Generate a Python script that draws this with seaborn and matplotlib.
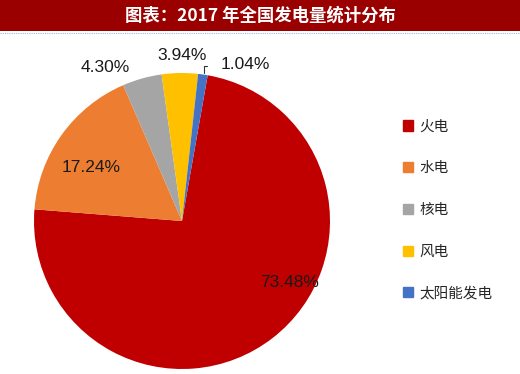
import matplotlib
matplotlib.use("Agg")
import matplotlib.pyplot as plt
import numpy as np
import seaborn as sns

categories = ["火电", "水电", "核电", "风电", "太阳能发电"]
shares = [73.48, 17.24, 4.30, 3.94, 1.04]
pct_labels = ["73.48%", "17.24%", "4.30%", "3.94%", "1.04%"]
title = "图表：2017 年全国发电量统计分布"

sns.set_theme(style="white")
plt.rcParams['font.family'] = ['Noto Sans CJK SC', 'DejaVu Sans']

colors = sns.color_palette(["#C00000", "#ED7D31", "#A5A5A5", "#FFC000", "#4472C4"])

W, H = 520, 374
fig = plt.figure(figsize=(W / 100, H / 100), dpi=100)
fig.patch.set_facecolor("white")

# title bar
bar = fig.add_axes([0, 1 - 31 / H, 1, 31 / H])
bar.set_facecolor("#9B0000")
bar.set_xticks([]); bar.set_yticks([])
for s in bar.spines.values():
    s.set_visible(False)
bar.text(0.5, 0.5, title, color="white", fontsize=12.5, fontweight="bold",
         ha="center", va="center", transform=bar.transAxes)
# dotted line under title bar
fig.add_artist(plt.Line2D([0, 1], [1 - 33 / H, 1 - 33 / H], color="#9DB8E0",
                          lw=0.8, ls=(0, (1, 1)), transform=fig.transFigure))

# pie axes
r_px = 148
cx, cy = 182, 221
ax = fig.add_axes([(cx - r_px) / W, (H - cy - r_px) / H, 2 * r_px / W, 2 * r_px / H])
wedges, _ = ax.pie(shares, colors=colors, startangle=80, counterclock=False,
                   radius=1, wedgeprops=dict(linewidth=0))
ax.set_xlim(-1, 1); ax.set_ylim(-1, 1)
ax.set_aspect("equal")
ax.axis("off")

# label placement (polar: angle deg, radius)
label_pos = [(-29.9, 0.84), (149.5, 0.71), (116.7, 1.16), (90.0, 1.12), (68.0, 1.14)]
for lab, (a, rr) in zip(pct_labels, label_pos):
    x, y = rr * np.cos(np.radians(a)), rr * np.sin(np.radians(a))
    ax.text(x, y, lab, ha="center", va="center", fontsize=12.5, color="#1A1A1A",
            family=["Calibri", "Liberation Sans", "DejaVu Sans"], clip_on=False)

# leader line for the smallest slice
ax.plot([0.17, 0.15, 0.15], [1.05, 1.05, 1.0], color="#333333", lw=0.8, clip_on=False)

# legend
handles = [plt.Rectangle((0, 0), 1, 1, color=c) for c in colors]
leg = fig.legend(handles, categories, loc="center left",
                 bbox_to_anchor=(390 / W, 1 - 210 / H), frameon=False,
                 fontsize=10.5, handlelength=0.7, handleheight=0.7,
                 handletextpad=0.4, labelspacing=1.9)

fig.savefig("out.png", dpi=100)
